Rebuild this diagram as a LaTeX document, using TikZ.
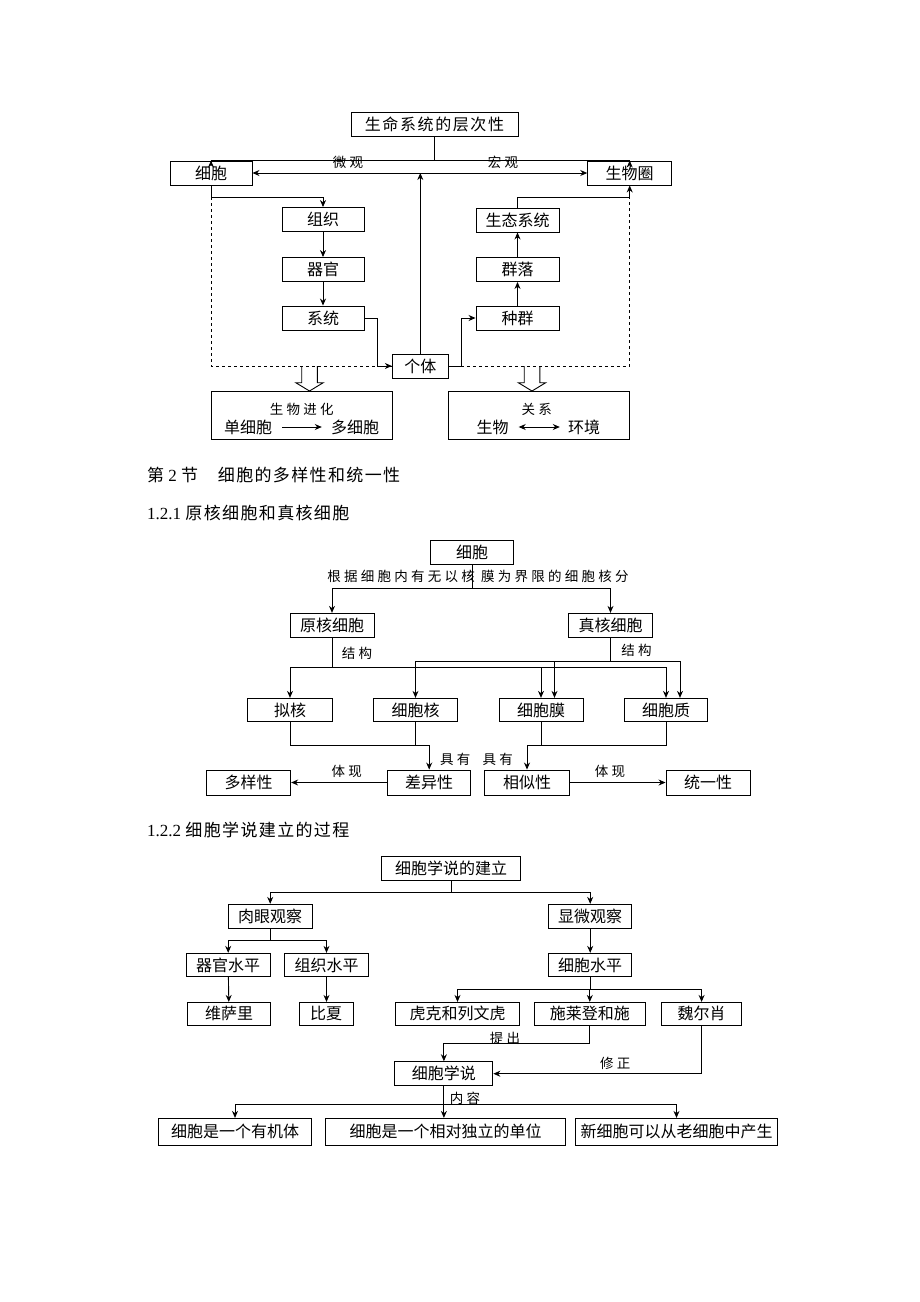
\documentclass[tikz,border=0pt]{standalone}
\usepackage{fontspec}
\setmainfont{Liberation Serif}
\newfontfamily\cjk{Noto Sans CJK SC}
\newfontfamily\cjkwide[LetterSpace=10]{Noto Sans CJK SC}
\newfontfamily\cjklab[LetterSpace=24]{Noto Sans CJK SC}
\newfontfamily\cjkhead[LetterSpace=8]{Noto Sans CJK SC}
\usetikzlibrary{arrows.meta, positioning, calc}

\tikzset{
  box/.style={draw, line width=0.9pt, inner sep=0pt, minimum height=24pt,
              font=\cjk\fontsize{16}{16}\selectfont},
  lab/.style={inner sep=0pt, font=\cjklab\fontsize{13.5}{13.5}\selectfont},
  head/.style={anchor=west, inner sep=0pt, font=\fontsize{17}{17}\selectfont},
  link/.style={line width=0.9pt},
  arr/.style={link, -{Stealth[length=7pt, width=6pt]}},
  dbl/.style={link, {Stealth[length=7pt, width=6pt]}-{Stealth[length=7pt, width=6pt]}},
}

\begin{document}
\begin{tikzpicture}[x=1pt, y=-1pt]
  \useasboundingbox[fill=white] (0,0) rectangle (920,1302);

  % Part 1: levels of living systems
  \node[box, minimum width=167pt, font=\cjkwide\fontsize{16}{16}\selectfont] (life) at (434.5,124) {生命系统的层次性};
  \node[box, minimum width=82pt] (cell) at (211,173) {细胞};
  \node[box, minimum width=84pt] (bios) at (629.7,173) {生物圈};
  \node[box, minimum width=82pt] (tissue) at (323,219.5) {组织};
  \node[box, minimum width=82pt] (organ) at (323,269.5) {器官};
  \node[box, minimum width=82pt] (system) at (323,318) {系统};
  \node[box, minimum width=83pt] (eco) at (517.5,220) {生态系统};
  \node[box, minimum width=83pt] (comm) at (517.5,269.5) {群落};
  \node[box, minimum width=83pt] (pop) at (517.5,318) {种群};
  \node[box, minimum width=56pt] (indiv) at (420.3,366) {个体};

  \draw[arr] (life.south) -- ++(0,24.3) -| (cell.north);
  \draw[arr] (life.south) -- ++(0,24.3) -| (bios.north);
  \draw[dbl] (cell.east) -- (bios.west);
  \node[lab] (micro1) at (348,162) {微观};
  \node[lab] (macro1) at (503,162) {宏观};
  \draw[arr] (indiv.north) -- (indiv.north |- cell.east);

  \draw[arr] (cell.south) -- ++(0,11.7) coordinate (cellfork) -| (tissue.north);
  \draw[arr] (tissue) -- (organ);
  \draw[arr] (organ) -- (system);
  \draw[arr] (system.east) -| ($(indiv.west)+(-14,0)$) -- (indiv.west);
  \draw[arr] (indiv.east) -| ($(pop.west)+(-14.3,0)$) -- (pop.west);
  \draw[arr] (pop) -- (comm);
  \draw[arr] (comm) -- (eco);
  \draw[arr] (eco.north) -- ++(0,-10.6) coordinate (ecofork) -| (bios.south);
  \draw[link, dashed] (cellfork) |- (indiv.west);
  \draw[link, dashed] (indiv.east) -| (bios.south |- ecofork);

  % hollow arrows to the two result boxes
  \foreach \hx in {309.5, 532} {
    \draw[link] (\hx-7.8,366) -- (\hx-7.8,382.7) -- (\hx-13.7,382.7) -- (\hx,391)
      -- (\hx+13.7,382.7) -- (\hx+7.8,382.7) -- (\hx+7.8,366);
  }

  \node[box, minimum width=181pt, minimum height=48pt] (evo) at (301.7,415) {};
  \node[lab] (evot) at (301.7,409) {生物进化};
  \node[inner sep=0pt, font=\cjk\fontsize{16}{16}\selectfont] (uni) at (248,427) {单细胞};
  \node[inner sep=0pt, font=\cjk\fontsize{16}{16}\selectfont] (multi) at (355,427) {多细胞};
  \draw[arr, shorten <=10pt, shorten >=9pt] (uni) -- (multi);

  \node[box, minimum width=181pt, minimum height=48pt] (rel) at (538.8,415) {};
  \node[lab] (relt) at (536.7,409) {关系};
  \node[inner sep=0pt, font=\cjk\fontsize{16}{16}\selectfont] (org1) at (492.5,427) {生物};
  \node[inner sep=0pt, font=\cjk\fontsize{16}{16}\selectfont] (env) at (584,427) {环境};
  \draw[dbl, shorten <=10pt, shorten >=8pt] (org1) -- (env);

  % headings
  \node[head] (sec2) at (147,475) {{\cjkhead 第} 2 {\cjkhead 节　细胞的多样性和统一性}};
  \node[head] (sub1) at (147,513) {1.2.1 {\cjkhead 原核细胞和真核细胞}};

  % Part 2: prokaryotic and eukaryotic cells
  \node[box, minimum width=83.6pt] (cell2) at (472,552) {细胞};
  \node[lab] (crit) at (478,576.7) {根据细胞内有无以核 膜为界限的细胞核分};
  \node[box, minimum width=84pt] (pro) at (332,625.3) {原核细胞};
  \node[box, minimum width=83.3pt] (euk) at (610.5,625.3) {真核细胞};
  \draw[arr] (cell2.south) -- ++(0,24.3) -| (pro.north);
  \draw[arr] (cell2.south) -- ++(0,24.3) -| (euk.north);

  \node[box, minimum width=85pt, minimum height=23.4pt] (nuc0) at (290,710) {拟核};
  \node[box, minimum width=84.8pt, minimum height=23.4pt] (nucleus) at (415.5,710) {细胞核};
  \node[box, minimum width=84pt, minimum height=23.4pt] (memb) at (541,710) {细胞膜};
  \node[box, minimum width=83.7pt, minimum height=23.4pt] (cyto) at (666,710) {细胞质};

  \draw[link] (pro.south) -- ++(0,29.4) coordinate (prok);
  \draw[arr] (prok) -| (nuc0.north);
  \draw[arr] (prok) -| (memb.north);
  \draw[arr] (prok) -| (cyto.north);
  \node[lab] (struct1) at (357,653.3) {结构};
  \draw[link] (euk.south) -- ++(0,23.7) coordinate (eukj);
  \draw[arr] (eukj) -| (nucleus.north);
  \draw[arr] (eukj) -| ($(memb.north)+(13.5,0)$);
  \draw[arr] (eukj) -| ($(cyto.north)+(14,0)$);
  \node[lab] (struct2) at (636.5,650) {结构};

  \node[box, minimum width=84pt, minimum height=25pt] (dive) at (248.7,782.5) {多样性};
  \node[box, minimum width=83.2pt, minimum height=25pt] (diff) at (429.2,782.5) {差异性};
  \node[box, minimum width=84.3pt, minimum height=25pt] (sim) at (527,782.5) {相似性};
  \node[box, minimum width=84pt, minimum height=25pt] (unity) at (708,782.5) {统一性};

  \coordinate (diffj) at ($(diff.north)+(0,-24)$);
  \coordinate (simj) at ($(sim.north)+(0,-24)$);
  \draw[arr] (nuc0.south) |- (diffj) -- (diff.north);
  \draw[link] (nucleus.south) -- (nucleus.south |- diffj);
  \draw[arr] (cyto.south) |- (simj) -- (sim.north);
  \draw[link] (memb.south) -- (memb.south |- simj);
  \node[lab] (have1) at (455.3,759.3) {具有};
  \node[lab] (have2) at (497.8,759.3) {具有};
  \draw[arr] (diff.west) -- node[lab, above=4pt, pos=0.42] {体现} (dive.east);
  \draw[arr] (sim.east) -- node[lab, above=4pt, pos=0.42] {体现} (unity.west);

  \node[head] (sub2) at (147,830) {1.2.2 {\cjkhead 细胞学说建立的过程}};

  % Part 3: founding of the cell theory
  \node[box, minimum width=139.2pt] (theory) at (451,868) {细胞学说的建立};
  \node[box, minimum width=83.6pt] (naked) at (270.2,916.3) {肉眼观察};
  \node[box, minimum width=82.8pt] (scope) at (590.2,916.3) {显微观察};
  \draw[arr] (theory.south) -- ++(0,12.3) -| (naked.north);
  \draw[arr] (theory.south) -- ++(0,12.3) -| (scope.north);

  \node[box, minimum width=84.5pt, minimum height=23.4pt] (organl) at (228.2,965) {器官水平};
  \node[box, minimum width=83.7pt, minimum height=23.4pt] (tissuel) at (326.5,965) {组织水平};
  \node[box, minimum width=82.8pt, minimum height=23.4pt] (celll) at (590.2,965) {细胞水平};
  \draw[arr] (naked.south) -- ++(0,11.7) -| (organl.north);
  \draw[arr] (naked.south) -- ++(0,11.7) -| (tissuel.north);
  \draw[arr] (scope) -- (celll);

  \node[box, minimum width=82.8pt, minimum height=22.7pt] (vesal) at (229,1013.7) {维萨里};
  \node[box, minimum width=53.9pt, minimum height=22.7pt] (bichat) at (326,1013.7) {比夏};
  \node[box, minimum width=123.7pt, minimum height=22.7pt] (hooke) at (457.5,1013.7) {虎克和列文虎};
  \node[box, minimum width=110.6pt, minimum height=22.7pt] (schl) at (589.8,1013.7) {施莱登和施};
  \node[box, minimum width=80.4pt, minimum height=22.7pt] (virch) at (701.6,1013.7) {魏尔肖};
  \draw[arr] (organl) -- (vesal);
  \draw[arr] (tissuel.south) -- (tissuel.south |- bichat.north);
  \draw[arr] (celll.south) -- ++(0,12.3) -| (hooke.north);
  \draw[arr] (celll.south) -- ++(0,12.3) -| (schl.north);
  \draw[arr] (celll.south) -- ++(0,12.3) -| (virch.north);

  \node[box, minimum width=98pt] (ctheory) at (443.9,1073.7) {细胞学说};
  \draw[arr] (schl.south) |- ($(ctheory.north)+(0,-17.7)$) -- (ctheory.north);
  \node[lab] (propose) at (505.1,1038.3) {提出};
  \draw[arr] (virch.south) |- (ctheory.east);
  \node[lab] (revise) at (615.3,1063.3) {修正};

  \node[box, minimum width=152.2pt, minimum height=26.7pt] (whole) at (235,1131.7) {细胞是一个有机体};
  \node[box, minimum width=240pt, minimum height=26.7pt] (unit) at (445.5,1131.7) {细胞是一个相对独立的单位};
  \node[box, minimum width=201.6pt, minimum height=26.7pt] (newc) at (676.5,1131.7) {新细胞可以从老细胞中产生};
  \draw[arr] (ctheory.south) -- ++(0,18.3) -| (whole.north);
  \draw[arr] (ctheory.south) -- ++(0,18.3) -| (newc.north);
  \draw[arr] (ctheory.south) -- (ctheory.south |- unit.north);
  \node[lab] (content) at (465,1098.3) {内容};
\end{tikzpicture}
\end{document}
